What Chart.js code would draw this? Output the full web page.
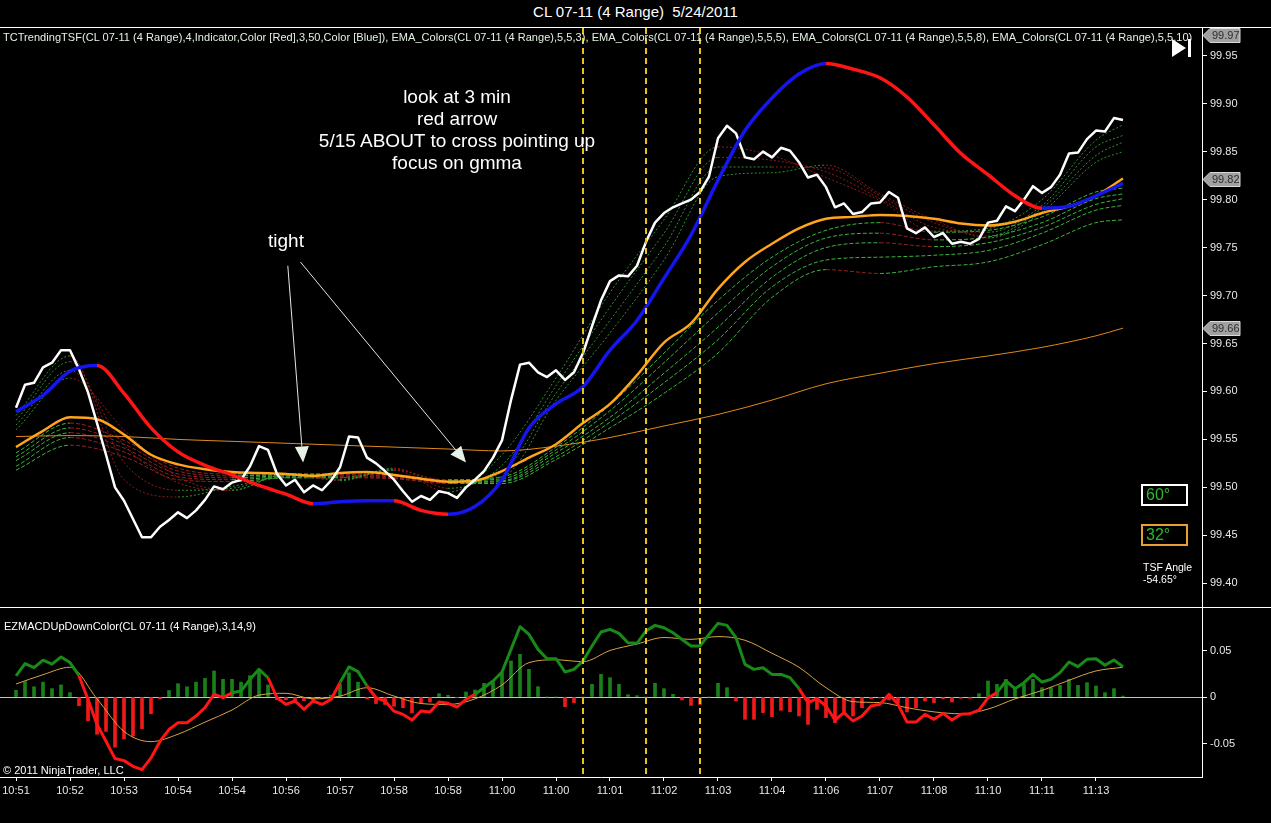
<!DOCTYPE html>
<html>
<head>
<meta charset="utf-8">
<script src="https://cdn.jsdelivr.net/npm/chart.js@4.4.1/dist/chart.umd.min.js"></script>
<style>
  html, body { margin: 0; padding: 0; background: #000; width: 1271px; height: 823px; overflow: hidden; }
  body { position: relative; font-family: Arial, "Liberation Sans", sans-serif; color: #fff; }
  canvas { position: absolute; left: 0; }
  #price { top: 28px; }
  #macd { top: 608px; }
  .t { position: absolute; white-space: pre; z-index: 2; }
  .line { position: absolute; left: 0; width: 1271px; height: 1px; background: #fff; z-index: 2; }
  #title { left: 0; width: 1271px; top: 3px; text-align: center; font-size: 15px; line-height: 18px; }
  #indLabel { left: 3px; top: 31px; font-size: 11px; line-height: 13px; color: #e4f2e4; letter-spacing: 0.04px; }
  #note { left: 257px; width: 400px; top: 86px; text-align: center; font-size: 19px; line-height: 22px; }
  #tight { left: 268px; top: 230px; font-size: 19px; line-height: 22px; }
  .box { position: absolute; box-sizing: border-box; width: 47px; height: 22px; left: 1141px; padding-left: 3px;
         font-size: 16px; line-height: 18px; color: #2fb52f; z-index: 2; }
  #tsfAngle { left: 1143px; top: 561px; font-size: 10.5px; line-height: 12px; }
  #macdLabel { left: 4px; top: 620px; font-size: 11px; line-height: 13px; }
  #copy { left: 3px; top: 764px; font-size: 11px; line-height: 13px; }
  #icon { position: absolute; left: 1172px; top: 39px; z-index: 3; }
</style>
</head>
<body>
<div id="title" class="t">CL 07-11 (4 Range)  5/24/2011</div>
<div class="line" style="top:27px"></div>
<div id="indLabel" class="t">TCTrendingTSF(CL 07-11 (4 Range),4,Indicator,Color [Red],3,50,Color [Blue]), EMA_Colors(CL 07-11 (4 Range),5,5,3), EMA_Colors(CL 07-11 (4 Range),5,5,5), EMA_Colors(CL 07-11 (4 Range),5,5,8), EMA_Colors(CL 07-11 (4 Range),5,5,10)</div>
<div id="note" class="t">look at 3 min
red arrow
5/15 ABOUT to cross pointing up
focus on gmma</div>
<div id="tight" class="t">tight</div>
<svg id="icon" width="20" height="19"><polygon points="0,0 0,18 14,9" fill="#fff"/><rect x="16" y="0" width="3" height="18" fill="#fff"/></svg>
<div class="box" style="top:484px; border:2px solid #fff;">60°</div>
<div class="box" style="top:524px; border:2px solid #e8a030;">32°</div>
<div id="tsfAngle" class="t">TSF Angle
-54.65°</div>
<canvas id="price" width="1271" height="579"></canvas>
<div class="line" style="top:607px"></div>
<canvas id="macd" width="1271" height="215"></canvas>
<div id="macdLabel" class="t">EZMACDUpDownColor(CL 07-11 (4 Range),3,14,9)</div>
<div id="copy" class="t">© 2011 NinjaTrader, LLC</div>

<script>
// Time axis: one label every 6 range bars
const timeLabels = ['10:51', '10:52', '10:53', '10:54', '10:54', '10:56', '10:57', '10:58', '10:58', '11:00',
    '11:00', '11:01', '11:02', '11:03', '11:04', '11:06', '11:07', '11:08', '11:10', '11:11', '11:13'];
const LABEL_EVERY = 6;

const priceTicks = [99.40, 99.45, 99.50, 99.55, 99.60, 99.65, 99.70, 99.75, 99.80, 99.85, 99.90, 99.95];
const macdTicks = [-0.05, 0, 0.05];
// last values shown as flags on the price axis (label is truncated to 2 decimals)
const priceMarkers = [99.972, 99.822, 99.666];
const dashedBars = [63, 70, 76];

// Close of every bar
const closes = [
    99.583, 99.607, 99.609, 99.625, 99.630, 99.643, 99.643, 99.623, 99.599, 99.567,
    99.534, 99.500, 99.486, 99.467, 99.448, 99.448, 99.459, 99.466, 99.474, 99.468,
    99.476, 99.487, 99.501, 99.498, 99.505, 99.508, 99.522, 99.543, 99.539, 99.514,
    99.502, 99.508, 99.495, 99.502, 99.497, 99.507, 99.521, 99.553, 99.552, 99.531,
    99.525, 99.517, 99.508, 99.496, 99.485, 99.491, 99.487, 99.496, 99.494, 99.489,
    99.500, 99.508, 99.517, 99.531, 99.549, 99.591, 99.628, 99.630, 99.620, 99.615,
    99.622, 99.612, 99.620, 99.640, 99.668, 99.695, 99.715, 99.721, 99.720, 99.731,
    99.756, 99.776, 99.786, 99.792, 99.796, 99.800, 99.808, 99.824, 99.864, 99.877,
    99.869, 99.844, 99.842, 99.850, 99.844, 99.854, 99.851, 99.839, 99.823, 99.826,
    99.813, 99.792, 99.796, 99.785, 99.787, 99.796, 99.797, 99.808, 99.802, 99.770,
    99.765, 99.771, 99.761, 99.765, 99.754, 99.756, 99.754, 99.759, 99.776, 99.778,
    99.793, 99.788, 99.800, 99.814, 99.807, 99.813, 99.826, 99.848, 99.849, 99.863,
    99.872, 99.871, 99.885, 99.883
];

// Smooth lines read every 3 bars
const tsf = [
    99.579, 99.596, 99.621, 99.627, 99.598, 99.562, 99.537, 99.523, 99.513, 99.502,
    99.493, 99.483, 99.485, 99.486, 99.486, 99.476, 99.472, 99.480, 99.508, 99.562,
    99.587, 99.605, 99.643, 99.674, 99.718, 99.763, 99.820, 99.872, 99.906, 99.931,
    99.942, 99.936, 99.927, 99.907, 99.878, 99.848, 99.826, 99.804, 99.791, 99.793,
    99.804, 99.817
];
const emaOrange = [
    99.542, 99.559, 99.573, 99.571, 99.555, 99.534, 99.524, 99.519, 99.516, 99.515,
    99.514, 99.512, 99.515, 99.516, 99.513, 99.509, 99.506, 99.507, 99.517, 99.531,
    99.545, 99.567, 99.587, 99.617, 99.651, 99.671, 99.707, 99.735, 99.754, 99.770,
    99.780, 99.782, 99.784, 99.783, 99.780, 99.775, 99.773, 99.777, 99.786, 99.793,
    99.804, 99.822
];

// Slow lines read every 6 bars (plus the last bar)
const emaSlow = [99.553, 99.554, 99.553, 99.550, 99.548, 99.546, 99.544, 99.542, 99.540, 99.538,
    99.543, 99.552, 99.564, 99.576, 99.591, 99.608, 99.619, 99.629, 99.637, 99.646, 99.658, 99.666];

const short1 = [99.575, 99.637, 99.508, 99.490, 99.501, 99.510, 99.510, 99.518, 99.495, 99.534, 99.614, 99.703, 99.779, 99.855, 99.846, 99.823, 99.799, 99.767, 99.770, 99.800, 99.862, 99.878];
const short2 = [99.570, 99.631, 99.526, 99.497, 99.499, 99.513, 99.508, 99.520, 99.499, 99.523, 99.606, 99.688, 99.765, 99.844, 99.841, 99.829, 99.801, 99.771, 99.766, 99.794, 99.855, 99.867];
const short3 = [99.565, 99.622, 99.544, 99.505, 99.497, 99.514, 99.507, 99.519, 99.504, 99.516, 99.598, 99.674, 99.751, 99.834, 99.834, 99.833, 99.804, 99.776, 99.762, 99.791, 99.846, 99.860];
const short4 = [99.560, 99.614, 99.560, 99.511, 99.497, 99.514, 99.508, 99.518, 99.507, 99.511, 99.591, 99.661, 99.737, 99.824, 99.828, 99.836, 99.806, 99.779, 99.760, 99.787, 99.839, 99.850];
const long1 = [99.536, 99.567, 99.549, 99.520, 99.514, 99.514, 99.514, 99.513, 99.508, 99.511, 99.542, 99.586, 99.640, 99.695, 99.740, 99.768, 99.776, 99.766, 99.768, 99.782, 99.808, 99.812];
const long2 = [99.532, 99.562, 99.545, 99.517, 99.512, 99.513, 99.513, 99.512, 99.507, 99.509, 99.539, 99.580, 99.630, 99.682, 99.730, 99.760, 99.765, 99.758, 99.761, 99.776, 99.801, 99.806];
const long3 = [99.528, 99.557, 99.541, 99.514, 99.510, 99.512, 99.512, 99.511, 99.506, 99.507, 99.536, 99.573, 99.619, 99.667, 99.719, 99.750, 99.755, 99.751, 99.755, 99.771, 99.795, 99.801];
const long4 = [99.522, 99.552, 99.537, 99.511, 99.508, 99.511, 99.511, 99.510, 99.505, 99.506, 99.532, 99.568, 99.609, 99.654, 99.709, 99.737, 99.740, 99.742, 99.747, 99.765, 99.789, 99.794];
const long5 = [99.518, 99.544, 99.532, 99.508, 99.506, 99.510, 99.510, 99.509, 99.504, 99.504, 99.529, 99.562, 99.598, 99.640, 99.698, 99.727, 99.723, 99.730, 99.735, 99.753, 99.776, 99.779];

// Lower panel
const macdLine = [
    0.0226, 0.0359, 0.0316, 0.0396, 0.0353, 0.0431, 0.0370, 0.0229, -0.0026, -0.0295,
    -0.0475, -0.0662, -0.0684, -0.0745, -0.0780, -0.0655, -0.0475, -0.0350, -0.0276, -0.0276,
    -0.0205, -0.0115, 0.0030, -0.0007, 0.0046, 0.0064, 0.0190, 0.0298, 0.0207, -0.0008,
    -0.0080, -0.0043, -0.0133, -0.0043, -0.0080, -0.0026, 0.0155, 0.0324, 0.0273, 0.0118,
    -0.0008, -0.0043, -0.0152, -0.0187, -0.0248, -0.0151, -0.0161, -0.0054, -0.0068, -0.0108,
    -0.0025, 0.0029, 0.0100, 0.0172, 0.0269, 0.0512, 0.0756, 0.0673, 0.0512, 0.0412,
    0.0412, 0.0269, 0.0297, 0.0387, 0.0548, 0.0699, 0.0727, 0.0684, 0.0584, 0.0577,
    0.0710, 0.0770, 0.0745, 0.0691, 0.0619, 0.0548, 0.0548, 0.0673, 0.0792, 0.0770,
    0.0638, 0.0351, 0.0297, 0.0315, 0.0243, 0.0243, 0.0208, 0.0090, -0.0061, -0.0018,
    -0.0097, -0.0247, -0.0168, -0.0258, -0.0204, -0.0097, -0.0079, 0.0029, -0.0079, -0.0269,
    -0.0269, -0.0186, -0.0240, -0.0176, -0.0247, -0.0186, -0.0179, -0.0140, -0.0010, 0.0047,
    0.0172, 0.0090, 0.0154, 0.0244, 0.0161, 0.0190, 0.0262, 0.0376, 0.0326, 0.0405,
    0.0412, 0.0341, 0.0398, 0.0326
];
const macdHist = [
    0.0072, 0.0165, 0.0110, 0.0160, 0.0090, 0.0130, 0.0047, -0.0094, -0.0255, -0.0400,
    -0.0370, -0.0540, -0.0450, -0.0420, -0.0340, -0.0180, -0.0020, 0.0070, 0.0143, 0.0110,
    0.0160, 0.0200, 0.0280, 0.0190, 0.0190, 0.0160, 0.0230, 0.0280, 0.0130, -0.0030,
    -0.0030, -0.0060, -0.0040, -0.0030, -0.0020, 0.0020, 0.0136, 0.0260, 0.0160, -0.0020,
    -0.0070, -0.0080, -0.0100, -0.0115, -0.0168, -0.0061, -0.0054, 0.0036, 0.0018, -0.0007,
    0.0054, 0.0075, 0.0147, 0.0165, 0.0262, 0.0387, 0.0459, 0.0297, 0.0111, 0,
    0, -0.0104, -0.0061, 0, 0.0136, 0.0244, 0.0208, 0.0136, 0.0025, 0.0014,
    0, 0.0147, 0.0090, 0.0029, -0.0032, -0.0090, -0.0080, 0, 0.0147, 0.0100,
    -0.0043, -0.0240, -0.0240, -0.0168, -0.0211, -0.0143, -0.0158, -0.0204, -0.0294, -0.0133,
    -0.0222, -0.0276, -0.0186, -0.0204, -0.0115, -0.0018, -0.0010, -0.0032, -0.0061, -0.0161,
    -0.0115, -0.0043, -0.0061, -0.0018, -0.0054, -0.0014, -0.0014, 0.0036, 0.0172, 0.0136,
    0.0190, 0.0082, 0.0136, 0.0190, 0.0100, 0.0100, 0.0125, 0.0190, 0.0125, 0.0154,
    0.0118, 0.0047, 0.0090, 0.0010
];
const macdSignal = [
    0.014, 0.024, 0.032, -0.002, -0.037, -0.048, -0.040, -0.027, -0.014, 0.002,
    0.004, -0.002, 0.001, 0.010, 0.001, -0.007, -0.008, -0.002, 0.013, 0.037,
    0.040, 0.038, 0.050, 0.057, 0.064, 0.062, 0.065, 0.061, 0.047, 0.032,
    0.010, -0.005, -0.006, -0.0115, -0.016, -0.018, -0.013, -0.002, 0.007, 0.018,
    0.028, 0.032
];

// Annotation arrows, in bar / price units
const arrows = [
    { from: [30.2, 99.731], to: [31.9, 99.526] },
    { from: [31.6, 99.735], to: [50.0, 99.526] }
];

// Bar index lists for each sampling
const bars = closes.map((_, i) => i);
const bars3 = tsf.map((_, k) => k * 3);
const bars6 = emaSlow.map((_, k) => Math.min(k * 6, bars.length - 1));

// Visible bar range (first bar sits a bit inside the left edge)
const X_MIN = -1.78, X_MAX = 131.78;

const BLUE = '#1515ee', RED = '#ff1515', GREEN = '#178a17';
Chart.defaults.font.family = 'Arial, "Liberation Sans", sans-serif';

function pts(xs, ys) { return ys.map((v, k) => ({ x: xs[k], y: v })); }
function lineDS(xs, ys, opt) {
    return Object.assign({ type: 'line', data: pts(xs, ys), borderWidth: 1, pointRadius: 0, fill: false, tension: 0 }, opt);
}
function bySlope(up, down) {
    return { borderColor: c => c.p1.parsed.y >= c.p0.parsed.y ? up : down };
}
function ribbon(xs, ys, up, down, dash) {
    return lineDS(xs, ys, { borderColor: up, borderDash: dash, cubicInterpolationMode: 'monotone', segment: bySlope(up, down) });
}

const overlay = {
    id: 'overlay',
    beforeDatasetsDraw(chart, args, opts) {
        if (!opts.zeroLine) return;
        const { ctx, chartArea: a, scales: { y } } = chart;
        const py = Math.round(y.getPixelForValue(0)) + 0.5;
        ctx.save();
        ctx.strokeStyle = '#c4c4c4';
        ctx.lineWidth = 1;
        ctx.beginPath(); ctx.moveTo(a.left, py); ctx.lineTo(a.right, py); ctx.stroke();
        ctx.restore();
    },
    afterDatasetsDraw(chart, args, opts) {
        const { ctx, chartArea: a, scales: { x, y } } = chart;
        ctx.save();
        ctx.strokeStyle = '#e8c31e';
        ctx.lineWidth = 2;
        ctx.setLineDash([6, 4]);
        (opts.marks || []).forEach(i => {
            const px = Math.round(x.getPixelForValue(i));
            ctx.beginPath(); ctx.moveTo(px, a.top); ctx.lineTo(px, a.bottom); ctx.stroke();
        });
        ctx.setLineDash([]);
        (opts.arrows || []).forEach(ar => {
            const x1 = x.getPixelForValue(ar.from[0]), y1 = y.getPixelForValue(ar.from[1]);
            const x2 = x.getPixelForValue(ar.to[0]), y2 = y.getPixelForValue(ar.to[1]);
            const ang = Math.atan2(y2 - y1, x2 - x1);
            const L = 16, W = 7;
            const bx = x2 - L * Math.cos(ang), by = y2 - L * Math.sin(ang);
            ctx.strokeStyle = '#e6e6e6';
            ctx.lineWidth = 1;
            ctx.beginPath(); ctx.moveTo(x1, y1); ctx.lineTo(bx, by); ctx.stroke();
            ctx.fillStyle = '#e6f2e6';
            ctx.beginPath();
            ctx.moveTo(x2, y2);
            ctx.lineTo(bx + W * Math.sin(ang), by - W * Math.cos(ang));
            ctx.lineTo(bx - W * Math.sin(ang), by + W * Math.cos(ang));
            ctx.closePath(); ctx.fill();
        });
        ctx.restore();
    },
    afterDraw(chart, args, opts) {
        if (!opts.markers) return;
        const { ctx, chartArea: a, scales: { y } } = chart;
        ctx.save();
        ctx.font = '11px Arial, "Liberation Sans", sans-serif';
        ctx.textBaseline = 'middle';
        opts.markers.forEach(v => {
            const py = Math.round(y.getPixelForValue(v)) + 0.5;
            const x0 = a.right + 1;
            ctx.fillStyle = '#a0a0a0';
            ctx.strokeStyle = '#d8d8d8';
            ctx.lineWidth = 1;
            ctx.beginPath();
            ctx.moveTo(x0, py);
            ctx.lineTo(x0 + 7, py - 7);
            ctx.lineTo(x0 + 37, py - 7);
            ctx.lineTo(x0 + 37, py + 7);
            ctx.lineTo(x0 + 7, py + 7);
            ctx.closePath();
            ctx.fill(); ctx.stroke();
            ctx.fillStyle = '#2e2e2e';
            ctx.fillText((Math.floor(v * 100 + 1e-6) / 100).toFixed(2), x0 + 9, py + 0.5);
        });
        ctx.restore();
    }
};

function rightAxis(min, max, ticks, fmt) {
    return {
        position: 'right', min, max,
        afterBuildTicks: s => { s.ticks = ticks.map(v => ({ value: v })); },
        afterFit: s => { s.width = 69; s.paddingTop = 0; s.paddingBottom = 0; },
        ticks: { color: '#e8e8e8', font: { size: 11 }, padding: 3, callback: fmt },
        grid: { drawOnChartArea: false, drawTicks: true, tickLength: 5, color: '#fff' },
        border: { display: true, color: '#fff', width: 1 }
    };
}

const baseOptions = {
    responsive: false, animation: false, events: [],
    layout: { padding: 0, autoPadding: false }
};

new Chart(document.getElementById('price'), {
    type: 'line',
    data: {
        datasets: [
            lineDS(bars3, tsf, { borderWidth: 3.5, borderColor: BLUE, cubicInterpolationMode: 'monotone', segment: bySlope(BLUE, RED) }),
            lineDS(bars, closes, { borderWidth: 2.5, borderColor: '#ffffff', borderJoinStyle: 'round' }),
            lineDS(bars3, emaOrange, { borderWidth: 2.5, borderColor: '#ffa41c', cubicInterpolationMode: 'monotone' }),
            lineDS(bars6, emaSlow, { borderWidth: 1, borderColor: '#e0881a', cubicInterpolationMode: 'monotone' }),
            ribbon(bars6, short1, '#2f8f2f', '#8c1c1c', [2, 2]),
            ribbon(bars6, short2, '#2f8f2f', '#8c1c1c', [2, 2]),
            ribbon(bars6, short3, '#2f8f2f', '#8c1c1c', [2, 2]),
            ribbon(bars6, short4, '#2f8f2f', '#8c1c1c', [2, 2]),
            ribbon(bars6, long1, '#3cb43c', '#962020', [4, 2]),
            ribbon(bars6, long2, '#3cb43c', '#962020', [4, 2]),
            ribbon(bars6, long3, '#3cb43c', '#962020', [4, 2]),
            ribbon(bars6, long4, '#3cb43c', '#962020', [4, 2]),
            ribbon(bars6, long5, '#3cb43c', '#962020', [4, 2])
        ]
    },
    options: Object.assign({}, baseOptions, {
        plugins: {
            legend: { display: false }, tooltip: { enabled: false },
            overlay: { marks: dashedBars, arrows: arrows, markers: priceMarkers }
        },
        scales: {
            x: { type: 'linear', display: false, min: X_MIN, max: X_MAX },
            y: rightAxis(99.3753, 99.9789, priceTicks, v => v.toFixed(2))
        }
    }),
    plugins: [overlay]
});

new Chart(document.getElementById('macd'), {
    type: 'bar',
    data: {
        datasets: [
            lineDS(bars, macdLine, {
                borderWidth: 3, borderColor: GREEN, borderJoinStyle: 'round',
                segment: { borderColor: c => (c.p0.parsed.y >= 0 && c.p1.parsed.y >= 0) ? GREEN : RED }
            }),
            lineDS(bars3, macdSignal, { borderWidth: 1, borderColor: '#d8a442', cubicInterpolationMode: 'monotone' }),
            {
                type: 'bar', data: pts(bars, macdHist), barThickness: 3, borderWidth: 0,
                backgroundColor: c => (c.raw && c.raw.y >= 0) ? '#1b801b' : '#f01a1a'
            }
        ]
    },
    options: Object.assign({}, baseOptions, {
        plugins: {
            legend: { display: false }, tooltip: { enabled: false },
            overlay: { marks: dashedBars, zeroLine: true }
        },
        scales: {
            x: {
                type: 'linear', min: X_MIN, max: X_MAX, offset: false,
                afterBuildTicks: s => { s.ticks = timeLabels.map((_, k) => ({ value: k * LABEL_EVERY })); },
                afterFit: s => { s.height = 46; s.paddingLeft = 0; s.paddingRight = 0; },
                ticks: { autoSkip: false, maxRotation: 0, color: '#e8e8e8', font: { size: 11 }, padding: 3,
                         callback: (v, i) => timeLabels[i] },
                grid: { drawOnChartArea: false, drawTicks: true, tickLength: 4, color: '#fff', offset: false },
                border: { display: true, color: '#fff', width: 1 }
            },
            y: rightAxis(-0.0860, 0.0957, macdTicks, v => v === 0 ? '0' : v.toFixed(2))
        }
    }),
    plugins: [overlay]
});
</script>
</body>
</html>
